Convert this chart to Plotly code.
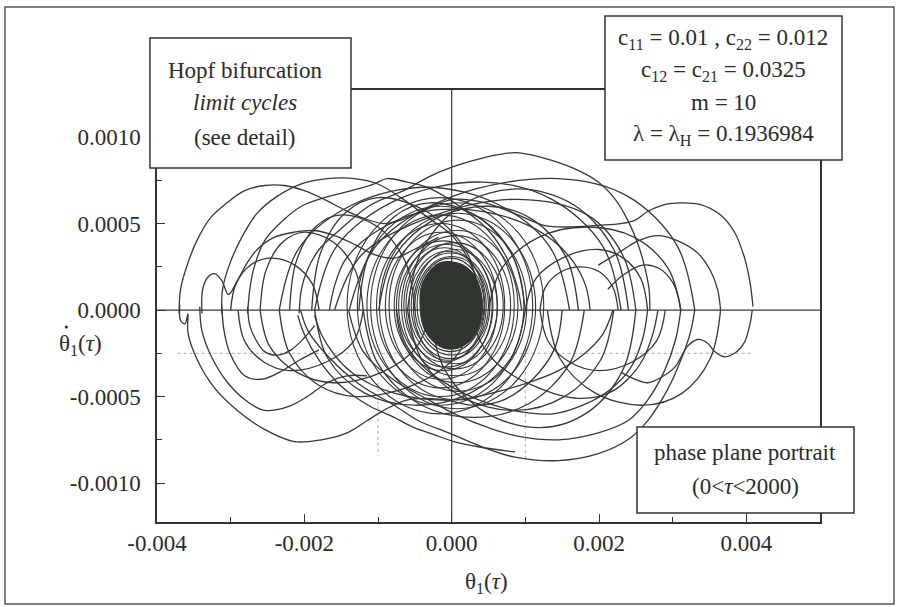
import plotly.graph_objects as go

# All trajectory values read (estimated) from the picture, in units of 1e-3
UNIT = 1e-3

# ---- upper arcs (moving right, y > 0) ----
ul1_x = [-3.70, -3.68, -3.59, -3.46, -3.28, -3.05, -2.81, -2.54, -2.27, -2.00, -1.73, -1.46, -1.19, -0.92, -0.69, -0.42, -0.15, 0.03, 0.45, 0.90, 1.25, 1.58, 1.99, 2.30, 2.49, 2.66, 2.89, 3.11, 3.38, 3.65, 3.84, 3.97, 4.05, 4.09]
ul1_y = [-0.02, 0.12, 0.26, 0.40, 0.53, 0.62, 0.69, 0.72, 0.72, 0.69, 0.64, 0.58, 0.53, 0.50, 0.52, 0.57, 0.62, 0.64, 0.62, 0.55, 0.49, 0.48, 0.49, 0.50, 0.52, 0.57, 0.61, 0.62, 0.61, 0.55, 0.45, 0.31, 0.16, 0.02]
ul2_x = [-3.39, -3.38, -3.31, -3.22, -3.12, -3.03, -2.92, -2.78, -2.64, -2.41, -2.14, -1.86, -1.59, -1.32, -1.05, -0.78, -0.51, -0.18]
ul2_y = [-0.02, 0.12, 0.19, 0.21, 0.17, 0.09, 0.16, 0.27, 0.35, 0.42, 0.45, 0.46, 0.43, 0.38, 0.32, 0.30, 0.35, 0.42]
ul3_x = [-3.12, -3.11, -3.01, -2.85, -2.64, -2.36, -2.04, -1.69, -1.32, -1.01, -0.69, -0.34, 0.03, 0.30, 0.40]
ul3_y = [-0.02, 0.12, 0.27, 0.42, 0.56, 0.66, 0.73, 0.76, 0.76, 0.73, 0.65, 0.54, 0.42, 0.22, 0.00]
ul4_x = [-2.77, -2.74, -2.68, -2.54, -2.31, -2.04, -1.73, -1.36, -1.05, -0.88, -0.61, -0.34, -0.07, 0.23, 0.50, 0.75, 0.90, 0.95]
ul4_y = [-0.02, 0.12, 0.25, 0.40, 0.51, 0.60, 0.65, 0.69, 0.73, 0.76, 0.74, 0.71, 0.65, 0.56, 0.46, 0.30, 0.12, 0.00]
ul5_x = [-2.07, -2.04, -1.96, -1.80, -1.53, -1.09, -0.65, -0.31, 0.03, 0.43, 0.86, 1.24, 1.65, 1.99, 2.22, 2.39, 2.53, 2.62, 2.68, 2.69]
ul5_y = [-0.02, 0.12, 0.23, 0.35, 0.46, 0.61, 0.69, 0.77, 0.83, 0.88, 0.91, 0.88, 0.82, 0.74, 0.64, 0.52, 0.38, 0.25, 0.12, 0.00]
um1_x = [-1.66, -1.59, -1.46, -1.23, -0.92, -0.55, -0.18, 0.23, 0.64, 1.04, 1.38, 1.65, 1.82, 1.88]
um1_y = [0.00, 0.14, 0.28, 0.39, 0.48, 0.55, 0.58, 0.58, 0.55, 0.49, 0.40, 0.28, 0.14, 0.00]
u6_x = [-2.34, -2.07, -1.34, -0.34, 0.63, 1.34, 1.60]
u6_y = [0.00, 0.36, 0.61, 0.71, 0.61, 0.36, 0.00]
u7_x = [-1.86, -1.56, -0.73, 0.41, 1.36, 2.05, 2.30]
u7_y = [0.00, 0.37, 0.64, 0.74, 0.64, 0.37, 0.00]
u8_x = [-1.59, -1.22, -0.21, 0.90, 1.84, 2.32, 2.50]
u8_y = [0.00, 0.32, 0.55, 0.64, 0.55, 0.32, 0.00]
u9_x = [-1.39, -1.01, 0.03, 1.45, 2.38, 3.05, 3.30]
u9_y = [0.00, 0.38, 0.66, 0.76, 0.66, 0.38, 0.00]
u10_x = [-2.20, -2.11, -1.85, -1.50, -1.00, -0.63, -0.50]
u10_y = [0.00, 0.28, 0.48, 0.55, 0.48, 0.28, 0.00]
u11_x = [-2.60, -2.52, -2.30, -2.00, -1.60, -1.31, -1.20]
u11_y = [0.00, 0.23, 0.39, 0.45, 0.39, 0.23, 0.00]
u12_x = [-1.26, -1.13, -0.78, -0.30, 0.35, 0.83, 1.00]
u12_y = [0.00, 0.31, 0.54, 0.62, 0.54, 0.31, 0.00]
u13_x = [-0.99, -0.79, -0.25, 0.50, 1.11, 1.56, 1.72]
u13_y = [0.00, 0.30, 0.52, 0.60, 0.52, 0.30, 0.00]
u14_x = [1.00, 1.14, 1.50, 1.99, 2.33, 2.57, 2.66]
u14_y = [0.00, 0.18, 0.30, 0.35, 0.30, 0.18, 0.00]
u15_x = [1.20, 1.27, 1.48, 1.76, 2.01, 2.19, 2.26]
u15_y = [0.00, 0.13, 0.22, 0.25, 0.22, 0.13, 0.00]
u16_x = [0.50, 0.68, 1.18, 1.85, 2.48, 2.94, 3.11]
u16_y = [0.00, 0.24, 0.42, 0.48, 0.42, 0.24, 0.00]
u17_x = [-3.00, -2.93, -2.73, -2.45, -2.13, -1.89, -1.80]
u17_y = [0.00, 0.15, 0.26, 0.30, 0.26, 0.15, 0.00]
u18_x = [-1.90, -1.78, -1.45, -1.00, -0.30, 0.21, 0.40]
u18_y = [0.00, 0.33, 0.56, 0.65, 0.56, 0.33, 0.00]
u19_x = [-0.60, -0.40, 0.15, 0.90, 1.65, 2.20, 2.40]
u19_y = [0.00, 0.35, 0.61, 0.70, 0.61, 0.35, 0.00]
ur2_x = [1.99, 2.26, 2.53, 2.80, 3.07, 3.34, 3.51, 3.61, 3.65]
ur2_y = [0.26, 0.33, 0.40, 0.43, 0.40, 0.33, 0.23, 0.12, 0.00]
ur3_x = [2.12, 2.32, 2.59, 2.82, 3.00, 3.08, 3.11]
ur3_y = [0.12, 0.20, 0.26, 0.24, 0.16, 0.07, 0.00]

# ---- lower arcs (moving left, y < 0) ----
lr1_x = [4.08, 4.05, 3.97, 3.84, 3.70, 3.57, 3.47, 3.34, 3.20, 3.03, 2.84, 2.66, 2.49, 2.30]
lr1_y = [0.00, -0.08, -0.19, -0.25, -0.27, -0.24, -0.19, -0.17, -0.21, -0.33, -0.39, -0.42, -0.40, -0.36]
lr2_x = [3.30, 3.24, 3.11, 2.93, 2.66, 2.39, 1.99, 1.45, 0.86, 0.41, -0.04, -0.45, -0.78, -1.25, -1.65, -1.95, -2.05]
lr2_y = [0.00, -0.13, -0.29, -0.46, -0.64, -0.75, -0.83, -0.87, -0.85, -0.79, -0.71, -0.64, -0.55, -0.43, -0.28, -0.12, 0.00]
lr3_x = [2.80, 2.73, 2.59, 2.39, 2.22, 1.99, 1.72, 1.45, 1.18, 0.84, 0.55, 0.35, 0.28]
lr3_y = [0.00, -0.14, -0.29, -0.40, -0.46, -0.50, -0.51, -0.49, -0.45, -0.38, -0.28, -0.14, 0.00]
lr4_x = [3.11, 3.04, 2.89, 2.66, 2.39, 1.99, 1.45, 0.91, 0.50, 0.09, -0.31, -0.80, -1.20, -1.40]
lr4_y = [0.00, -0.17, -0.35, -0.52, -0.64, -0.71, -0.75, -0.73, -0.68, -0.61, -0.52, -0.40, -0.24, 0.00]
lr5_x = [2.66, 2.59, 2.42, 2.15, 1.78, 1.38, 0.97, 0.57, 0.16, -0.30, -0.62, -0.75]
lr5_y = [0.00, -0.17, -0.34, -0.46, -0.55, -0.60, -0.59, -0.55, -0.48, -0.36, -0.20, 0.00]
ll1_x = [-3.69, -3.68, -3.62, -3.58, -3.58, -3.45, -3.22, -2.91, -2.54, -2.14, -1.77, -1.42, -1.15, -0.88, -0.61, -0.34, -0.07, 0.30, 0.70, 1.10, 1.40, 1.50]
ll1_y = [0.03, -0.06, -0.08, -0.02, -0.13, -0.29, -0.45, -0.58, -0.69, -0.76, -0.75, -0.71, -0.64, -0.57, -0.52, -0.51, -0.52, -0.55, -0.52, -0.40, -0.22, 0.00]
ll2_x = [-3.42, -3.39, -3.26, -3.04, -2.77, -2.54, -2.23, -1.96, -1.69, -1.42, -1.15]
ll2_y = [0.02, -0.12, -0.27, -0.42, -0.53, -0.58, -0.56, -0.50, -0.42, -0.38, -0.38]
ll3_x = [-3.12, -3.09, -3.01, -2.81, -2.58, -2.34, -2.07, -1.80]
ll3_y = [0.02, -0.12, -0.25, -0.38, -0.40, -0.36, -0.29, -0.23]
ll4_x = [-2.77, -2.74, -2.66, -2.54, -2.36, -2.18, -2.00, -1.86]
ll4_y = [0.02, -0.09, -0.17, -0.24, -0.26, -0.23, -0.16, -0.09]
ld1_x = [-2.09, -2.00, -1.80, -1.55, -1.32, -1.09, -0.78, -0.51, -0.24, 0.03, 0.36, 0.86]
ld1_y = [-0.03, -0.14, -0.29, -0.42, -0.50, -0.56, -0.62, -0.68, -0.72, -0.76, -0.79, -0.82]
ld2_x = [-1.86, -1.77, -1.59, -1.36, -1.09, -0.78, -0.45, -0.11, 0.23, 0.64, 1.04, 1.45, 1.78, 2.05, 2.19]
ld2_y = [-0.03, -0.14, -0.26, -0.36, -0.43, -0.48, -0.51, -0.52, -0.51, -0.47, -0.42, -0.35, -0.26, -0.14, 0.00]
d8_x = [1.00, 0.80, 0.25, -0.50, -1.18, -1.68, -1.86]
d8_y = [0.00, -0.28, -0.48, -0.55, -0.48, -0.28, 0.00]
d9_x = [0.30, 0.09, -0.50, -1.30, -1.82, -2.20, -2.34]
d9_y = [0.00, -0.25, -0.43, -0.50, -0.43, -0.25, 0.00]
d10_x = [2.20, 2.02, 1.53, 0.86, 0.13, -0.40, -0.60]
d10_y = [0.00, -0.29, -0.50, -0.58, -0.50, -0.29, 0.00]
d11_x = [1.80, 1.60, 1.05, 0.30, -0.45, -1.00, -1.20]
d11_y = [0.00, -0.31, -0.54, -0.62, -0.54, -0.31, 0.00]
d12_x = [2.50, 2.33, 1.85, 1.20, 0.45, -0.10, -0.30]
d12_y = [0.00, -0.34, -0.59, -0.68, -0.59, -0.34, 0.00]
d13_x = [-0.30, -0.47, -0.95, -1.60, -2.10, -2.47, -2.60]
d13_y = [0.00, -0.21, -0.36, -0.42, -0.36, -0.21, 0.00]
d14_x = [-1.20, -1.33, -1.70, -2.20, -2.55, -2.81, -2.90]
d14_y = [0.00, -0.18, -0.30, -0.35, -0.30, -0.18, 0.00]
d15_x = [3.65, 3.51, 3.13, 2.60, 1.95, 1.47, 1.30]
d15_y = [0.00, -0.28, -0.48, -0.55, -0.48, -0.28, 0.00]
d16_x = [2.90, 2.78, 2.45, 2.00, 1.60, 1.31, 1.20]
d16_y = [0.00, -0.18, -0.30, -0.35, -0.30, -0.18, 0.00]

# ---- dense central rings (left, right, bottom, top) ----
ring_left = [-0.47, -0.50, -0.55, -0.58, -0.65, -0.52, -0.72, -0.62, -0.78, -0.68, -0.90, -0.75, -1.02, -0.85, -1.15, -0.98, -1.28, -1.10, -1.42]
ring_right = [0.44, 0.50, 0.52, 0.47, 0.45, 0.62, 0.56, 0.70, 0.55, 0.80, 0.62, 0.90, 0.72, 1.02, 0.85, 1.14, 0.98, 1.25, 1.10]
ring_bottom = [-0.24, -0.26, -0.28, -0.29, -0.30, -0.31, -0.33, -0.34, -0.35, -0.38, -0.40, -0.42, -0.45, -0.47, -0.50, -0.52, -0.55, -0.57, -0.60]
ring_top = [0.30, 0.31, 0.33, 0.34, 0.36, 0.35, 0.38, 0.39, 0.40, 0.43, 0.45, 0.46, 0.50, 0.52, 0.55, 0.56, 0.60, 0.62, 0.65]

# ---- dark core outline ----
core_x = [-0.04, 0.16, 0.31, 0.39, 0.42, 0.38, 0.27, 0.09, -0.11, -0.28, -0.39, -0.43, -0.41, -0.31, -0.18, -0.04]
core_y = [0.28, 0.26, 0.20, 0.12, 0.01, -0.09, -0.17, -0.22, -0.22, -0.17, -0.09, 0.03, 0.14, 0.22, 0.27, 0.28]

# ---- faint guide lines ----
guide_h_y = -0.25
guide_h_x = [-3.72, 4.08]
guide_v1_x = -1.0
guide_v1_y = [-0.42, -0.84]
guide_v2_x = 1.0
guide_v2_y = [-0.22, -0.87]

# ---- axes ----
x_range = [-4.0, 5.0]
y_range = [-1.225, 1.272]
x_tickvals = [-4, -2, 0, 2, 4]
x_ticktext = ["-0.004", "-0.002", "0.000", "0.002", "0.004"]
y_tickvals = [-1.0, -0.5, 0.0, 0.5, 1.0]
y_ticktext = ["-0.0010", "-0.0005", "0.0000", "0.0005", "0.0010"]

arcs = [
    (ul1_x, ul1_y), (ul2_x, ul2_y), (ul3_x, ul3_y), (ul4_x, ul4_y), (ul5_x, ul5_y), (um1_x, um1_y),
    (u6_x, u6_y), (u7_x, u7_y), (u8_x, u8_y), (u9_x, u9_y), (u10_x, u10_y), (u11_x, u11_y),
    (u12_x, u12_y), (u13_x, u13_y), (u14_x, u14_y), (u15_x, u15_y), (u16_x, u16_y), (u17_x, u17_y),
    (u18_x, u18_y), (u19_x, u19_y), (ur2_x, ur2_y), (ur3_x, ur3_y),
    (lr1_x, lr1_y), (lr2_x, lr2_y), (lr3_x, lr3_y), (lr4_x, lr4_y), (lr5_x, lr5_y),
    (ll1_x, ll1_y), (ll2_x, ll2_y), (ll3_x, ll3_y), (ll4_x, ll4_y), (ld1_x, ld1_y), (ld2_x, ld2_y),
    (d8_x, d8_y), (d9_x, d9_y), (d10_x, d10_y), (d11_x, d11_y), (d12_x, d12_y), (d13_x, d13_y),
    (d14_x, d14_y), (d15_x, d15_y), (d16_x, d16_y),
]

INK = "#353835"
TXT = "#2b2b2b"
FONT = "Liberation Serif"
s = lambda arr: [v * UNIT for v in arr]

fig = go.Figure()

guide = dict(color="#a8a8a8", width=1, dash="dot")
fig.add_trace(go.Scatter(x=s(guide_h_x), y=s([guide_h_y, guide_h_y]), mode="lines", line=guide, hoverinfo="skip"))
fig.add_trace(go.Scatter(x=s([guide_v1_x, guide_v1_x]), y=s(guide_v1_y), mode="lines", line=guide, hoverinfo="skip"))
fig.add_trace(go.Scatter(x=s([guide_v2_x, guide_v2_x]), y=s(guide_v2_y), mode="lines", line=guide, hoverinfo="skip"))

for ax_, ay_ in arcs:
    fig.add_trace(go.Scatter(x=s(ax_), y=s(ay_), mode="lines",
                             line=dict(color=INK, width=1.3, shape="spline", smoothing=1.0),
                             hoverinfo="skip"))

fig.add_trace(go.Scatter(x=s(core_x), y=s(core_y), mode="lines", fill="toself",
                         fillcolor="#2f352f", line=dict(color="#2f352f", width=1, shape="spline"),
                         hoverinfo="skip"))

shapes = []
for l, r, b, t in zip(ring_left, ring_right, ring_bottom, ring_top):
    shapes.append(dict(type="circle", xref="x", yref="y", x0=l * UNIT, x1=r * UNIT,
                       y0=b * UNIT, y1=t * UNIT, line=dict(color=INK, width=1.1), layer="above"))

shapes.append(dict(type="line", xref="x domain", yref="y", x0=0, x1=1, y0=0, y1=0,
                   line=dict(color=INK, width=1.2), layer="above"))
shapes.append(dict(type="line", xref="x", yref="y domain", x0=0, x1=0, y0=0, y1=1,
                   line=dict(color=INK, width=1.2), layer="above"))

box_line = dict(color="#333", width=1.5)
shapes.append(dict(type="rect", xref="paper", yref="paper", x0=-0.0106, x1=0.2926, y0=0.8194, y1=1.1204,
                   fillcolor="white", line=box_line, layer="above"))
shapes.append(dict(type="rect", xref="paper", yref="paper", x0=0.6757, x1=1.0332, y0=0.838, y1=1.1713,
                   fillcolor="white", line=box_line, layer="above"))
shapes.append(dict(type="rect", xref="paper", yref="paper", x0=0.724, x1=1.0513, y0=0.0208, y1=0.2199,
                   fillcolor="white", line=box_line, layer="above"))
shapes.append(dict(type="rect", xref="paper", yref="paper", x0=-0.2293, x1=1.1116, y0=-0.1898, y1=1.1921,
                   line=dict(color="#555", width=1.5), layer="above"))
# overdot of the y-axis title (theta-dot)
shapes.append(dict(type="circle", xref="paper", yref="paper", x0=-0.1390, x1=-0.1345, y0=0.4480, y1=0.4550,
                   fillcolor=TXT, line=dict(color=TXT, width=0), layer="above"))

ann = []
def txt(x, y, t, size=23):
    ann.append(dict(xref="paper", yref="paper", x=x, y=y, text=t, showarrow=False,
                    xanchor="center", yanchor="middle", font=dict(family=FONT, size=size, color=TXT)))

txt(0.1327, 1.046, "Hopf bifurcation")
txt(0.1327, 0.970, "<i>limit cycles</i>")
txt(0.1327, 0.891, "(see detail)")
txt(0.8537, 1.118, "c<sub>11</sub> = 0.01 , c<sub>22</sub> = 0.012")
txt(0.8537, 1.044, "c<sub>12</sub> = c<sub>21</sub> = 0.0325")
txt(0.8537, 0.970, "m = 10")
txt(0.8537, 0.896, "λ = λ<sub>H</sub> = 0.1936984")
txt(0.887, 0.160, "phase plane portrait")
txt(0.887, 0.083, "(0&lt;<i>τ</i>&lt;2000)")
txt(0.4977, -0.141, "θ<sub>1</sub>(<i>τ</i>)")
txt(-0.1161, 0.4097, "θ<sub>1</sub>(<i>τ</i>)")

tf = dict(family=FONT, size=23, color=TXT)
fig.update_layout(
    width=900, height=607,
    margin=dict(l=157, r=80, t=90, b=85),
    paper_bgcolor="white", plot_bgcolor="white",
    showlegend=False,
    shapes=shapes, annotations=ann,
    font=tf,
)
fig.update_xaxes(range=s(x_range), tickvals=s(x_tickvals), ticktext=x_ticktext,
                 ticks="inside", ticklen=8, tickwidth=1.2, tickcolor="#333",
                 minor=dict(ticks="inside", ticklen=5, dtick=UNIT, tickcolor="#333"),
                 showline=True, linecolor="#333", linewidth=1.5, mirror=True,
                 showgrid=False, zeroline=False, tickfont=tf)
fig.update_yaxes(range=s(y_range), tickvals=s(y_tickvals), ticktext=y_ticktext,
                 ticks="inside", ticklen=8, tickwidth=1.2, tickcolor="#333",
                 minor=dict(ticks="inside", ticklen=5, dtick=0.25 * UNIT, tickcolor="#333"),
                 showline=True, linecolor="#333", linewidth=1.5, mirror=True,
                 showgrid=False, zeroline=False, tickfont=tf, ticklabelstandoff=10)

fig.write_html("out.html", config={"displayModeBar": False},
               post_script="document.body.style.margin='0px';")
